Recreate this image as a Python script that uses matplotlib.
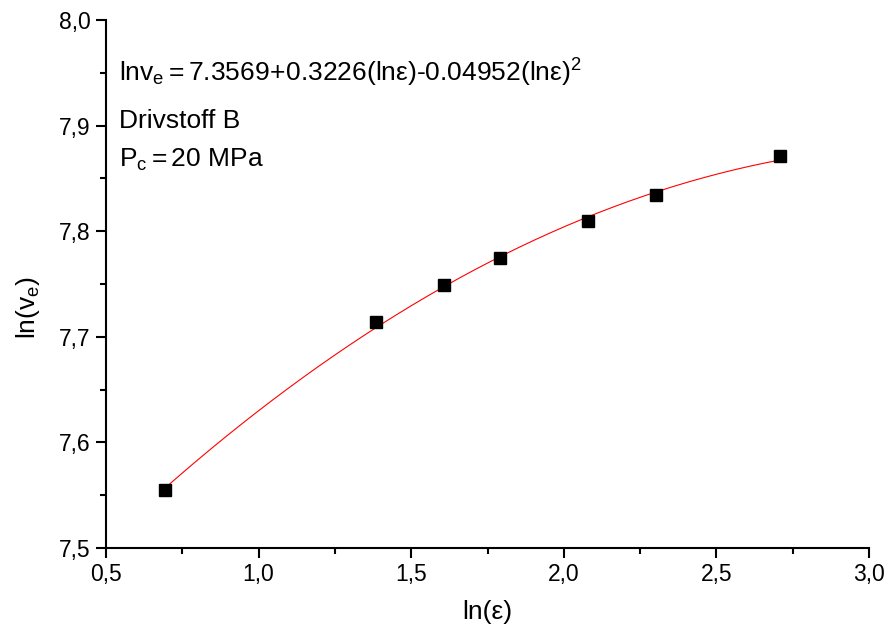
import numpy as np
import matplotlib
matplotlib.use("Agg")
import matplotlib.pyplot as plt
from matplotlib.ticker import MultipleLocator, FuncFormatter

plt.rcParams['font.family'] = ['Liberation Sans', 'DejaVu Sans']
plt.rcParams['mathtext.fontset'] = 'custom'
plt.rcParams['mathtext.rm'] = 'Liberation Sans'
plt.rcParams['mathtext.it'] = 'Liberation Sans'
plt.rcParams['mathtext.default'] = 'rm'

# measured points
ln_eps = [0.693, 1.386, 1.609, 1.792, 2.079, 2.303, 2.708]
ln_ve = [7.555, 7.714, 7.749, 7.775, 7.810, 7.834, 7.871]

# fit coefficients as printed on the chart
coef = [7.3569, 0.3226, -0.04952]

fig = plt.figure(figsize=(8.88, 6.36), dpi=100)
ax = fig.add_axes([0.1194, 0.1384, 0.8592, 0.8302])

xf = np.linspace(min(ln_eps), max(ln_eps), 200)
yf = coef[0] + coef[1] * xf + coef[2] * xf ** 2
ax.plot(xf, yf, color='red', lw=0.8, zorder=2)
ax.plot(ln_eps, ln_ve, 's', color='black', ms=8.5, zorder=3)

ax.set_xlim(0.5, 3.0)
ax.set_ylim(7.5, 8.0)
ax.xaxis.set_major_locator(MultipleLocator(0.5))
ax.xaxis.set_minor_locator(MultipleLocator(0.25))
ax.yaxis.set_major_locator(MultipleLocator(0.1))
ax.yaxis.set_minor_locator(MultipleLocator(0.05))
comma = FuncFormatter(lambda v, p: f"{v:.1f}".replace('.', ','))
ax.xaxis.set_major_formatter(comma)
ax.yaxis.set_major_formatter(comma)

for s in ['top', 'right']:
    ax.spines[s].set_visible(False)
for s in ['left', 'bottom']:
    ax.spines[s].set_linewidth(1.5)
ax.tick_params(which='major', direction='out', length=7, width=1.5,
               labelsize=16.5, pad=4)
ax.tick_params(which='minor', direction='out', length=4, width=1.5)

ax.set_xlabel('ln(ε)', fontsize=19, labelpad=10)
ax.set_ylabel(r'$\mathrm{ln(v_e)}$', fontsize=19)
ax.yaxis.set_label_coords(-0.084, 0.455)

ax.text(0.017, 0.883,
        r'$\mathrm{lnv_e = 7.3569\!+\!0.3226(ln\epsilon)‐0.04952(ln\epsilon)^2}$',
        transform=ax.transAxes, fontsize=19, va='baseline')
ax.text(0.017, 0.795, 'Drivstoff B', transform=ax.transAxes,
        fontsize=19, va='baseline')
ax.text(0.017, 0.722, r'$\mathrm{P_c = 20\ MPa}$', transform=ax.transAxes,
        fontsize=19, va='baseline')

fig.savefig('out.png', dpi=100)
